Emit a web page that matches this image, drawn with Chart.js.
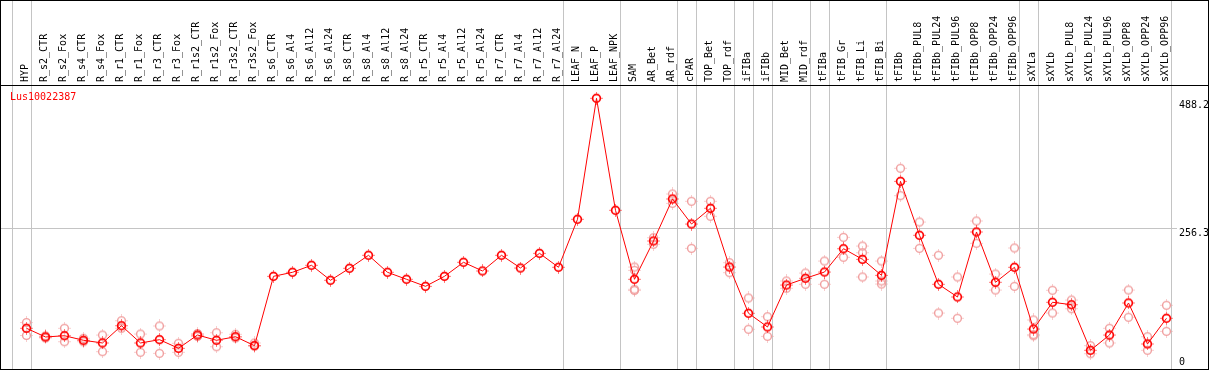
<!DOCTYPE html>
<html>
<head>
<meta charset="utf-8">
<script src="https://cdn.jsdelivr.net/npm/chart.js@4.4.1/dist/chart.umd.min.js"></script>
<style>
  body { margin: 0; background: #fff; }
  canvas { display: block; }
</style>
</head>
<body>
<canvas id="myChart" width="1209" height="370"></canvas>
<script>
// gene shown in the panel
const geneName = 'Lus10022387';

const categories = ['HYP', 'R_s2_CTR', 'R_s2_Fox', 'R_s4_CTR', 'R_s4_Fox', 'R_r1_CTR', 'R_r1_Fox', 'R_r3_CTR', 'R_r3_Fox',
    'R_r1s2_CTR', 'R_r1s2_Fox', 'R_r3s2_CTR', 'R_r3s2_Fox', 'R_s6_CTR', 'R_s6_Al4', 'R_s6_Al12', 'R_s6_Al24',
    'R_s8_CTR', 'R_s8_Al4', 'R_s8_Al12', 'R_s8_Al24', 'R_r5_CTR', 'R_r5_Al4', 'R_r5_Al12', 'R_r5_Al24',
    'R_r7_CTR', 'R_r7_Al4', 'R_r7_Al12', 'R_r7_Al24', 'LEAF_N', 'LEAF_P', 'LEAF_NPK', 'SAM', 'AR_Bet', 'AR_rdf',
    'cPAR', 'TOP_Bet', 'TOP_rdf', 'iFIBa', 'iFIBb', 'MID_Bet', 'MID_rdf', 'tFIBa', 'tFIB_Gr', 'tFIB_Li', 'tFIB_Bi',
    'tFIBb', 'tFIBb_PUL8', 'tFIBb_PUL24', 'tFIBb_PUL96', 'tFIBb_OPP8', 'tFIBb_OPP24', 'tFIBb_OPP96',
    'sXYLa', 'sXYLb', 'sXYLb_PUL8', 'sXYLb_PUL24', 'sXYLb_PUL96', 'sXYLb_OPP8', 'sXYLb_OPP24', 'sXYLb_OPP96'];

// mean expression per sample
const means = [74.0, 58.2, 60.5, 52.2, 47.3, 78.7, 47.3, 53.3, 37.6, 61.8, 52.2, 58.7, 42.4,
    168.5, 175.8, 188.5, 161.3, 183.1, 206.7, 175.8, 163.1, 150.3, 168.5, 194.0, 178.2, 206.7, 183.6, 210.3, 184.9,
    272.2, 492.1, 288.5,
    163.1, 232.7, 309.1, 263.6, 292.2, 185.4, 101.3, 76.4, 152.7, 164.9, 176.3, 218.7, 199.4, 170.3,
    341.2, 243.1, 154.0, 130.9, 249.1, 157.6, 184.9, 72.7, 121.3, 116.9, 34.0, 61.8, 120.0, 45.5, 92.2];

// single replicates per sample (empty where none are shown)
const replicates = [
    [84.5, 60.9], [60.0, 56.4], [74.0, 49.6], [55.8, 49.6], [61.8, 31.5], [87.8, 74.0], [63.6, 30.4],
    [78.2, 28.5], [46.7, 30.4], [64.5, 59.1], [66.0, 40.5], [63.1, 56.4], [47.3, 41.8],
    [], [], [], [], [], [], [], [], [], [], [], [], [], [], [], [],
    [], [], [],
    [185.4, 179.4, 144.9, 142.7], [238.7, 226.7], [318.2, 301.2], [304.9, 219.4], [304.9, 277.6],
    [193.3, 175.1], [129.1, 72.2], [95.1, 59.4], [160.0, 146.7], [174.5, 154.0], [196.3, 154.0],
    [239.4, 203.1], [223.6, 211.4, 167.3], [196.3, 160.0, 154.5],
    [364.9, 315.1], [267.2, 219.4], [206.7, 101.8], [167.3, 92.2], [269.1, 228.5], [172.7, 143.6],
    [220.0, 150.3], [89.1, 62.4, 60.5], [143.1, 101.8], [125.4, 109.6], [42.4, 27.8], [74.0, 47.3],
    [143.6, 94.0], [58.7, 34.0], [115.8, 68.5]];

// last sample index of each group (-1 = line before the first one)
const groupEnds = [-1, 0, 28, 31, 34, 35, 37, 38, 39, 41, 42, 45, 52, 53, 60];

const yTickValues = [0, 256.3, 488.2];

const sepOffset = 0.24;
const gridGrey = '#c4c4c4';
const font = { family: 'DejaVu Sans Mono', size: 10 };

// small ring with four short spikes, used as point marker
function makeMark(color, lw) {
    let c = document.createElement('canvas');
    c.width = 13;
    c.height = 13;
    let g = c.getContext('2d');
    g.strokeStyle = color;
    g.fillStyle = color;
    g.lineWidth = lw;
    g.beginPath();
    g.arc(6.5, 6.5, 3.9, 0, Math.PI * 2);
    g.stroke();
    g.fillRect(6, 0.5, 1, 1);
    g.fillRect(6, 11.5, 1, 1);
    g.fillRect(0.5, 6, 1, 1);
    g.fillRect(11.5, 6, 1, 1);
    return c;
}

let meanPoints = means.map((v, i) => ({ x: i, y: v }));
let repPoints = [];
replicates.forEach((list, i) => {
    list.forEach(v => repPoints.push({ x: i, y: v }));
});

const framePlugin = {
    id: 'frame',
    afterDraw(chart) {
        let ctx = chart.ctx;
        let area = chart.chartArea;
        ctx.save();
        ctx.strokeStyle = '#000';
        ctx.lineWidth = 1;
        ctx.strokeRect(0.5, 0.5, chart.width - 1, chart.height - 1);
        ctx.beginPath();
        ctx.moveTo(0, area.top + 0.5);
        ctx.lineTo(chart.width, area.top + 0.5);
        ctx.stroke();
        ctx.fillStyle = '#ff0000';
        ctx.font = '10px "DejaVu Sans Mono"';
        ctx.textBaseline = 'middle';
        ctx.fillText(geneName, area.left + 9, area.top + 12);
        ctx.restore();
    }
};

var ctx = document.getElementById('myChart').getContext('2d');
var myChart = new Chart(ctx, {
    type: 'line',
    data: {
        datasets: [{
            label: 'mean',
            data: meanPoints,
            borderColor: '#ff0000',
            borderWidth: 1,
            pointStyle: makeMark('#ff0000', 1.7),
            pointRadius: 5,
            tension: 0
        },
        {
            label: 'replicates',
            data: repPoints,
            showLine: false,
            borderColor: '#f09c9c',
            pointStyle: makeMark('#f09c9c', 1.4),
            pointRadius: 5
        }]
    },
    options: {
        responsive: false,
        animation: false,
        layout: { autoPadding: false, padding: { left: 1, right: 0, top: 0, bottom: 1 } },
        plugins: {
            legend: { display: false },
            tooltip: { enabled: false }
        },
        scales: {
            x: {
                type: 'linear',
                position: 'top',
                min: -25.5 / 19,
                max: 60 + 10.5 / 19,
                afterBuildTicks: function(scale) {
                    let t = categories.map((c, i) => ({ value: i }));
                    groupEnds.forEach(g => t.push({ value: g + sepOffset }));
                    t.sort((a, b) => a.value - b.value);
                    scale.ticks = t;
                },
                afterFit: function(scale) {
                    scale.height = 85;
                    scale.paddingLeft = 0;
                    scale.paddingRight = 0;
                },
                grid: {
                    color: c => (c.tick && !Number.isInteger(c.tick.value)) ? gridGrey : 'rgba(0,0,0,0)',
                    tickLength: 85,
                    lineWidth: 1
                },
                border: { display: true, color: '#000' },
                ticks: {
                    autoSkip: false,
                    minRotation: 90,
                    maxRotation: 90,
                    padding: -82,
                    labelOffset: 11,
                    color: '#000',
                    font: font,
                    callback: function(value) {
                        return Number.isInteger(value) ? categories[value] : '';
                    }
                }
            },
            y: {
                type: 'linear',
                position: 'right',
                min: 0,
                max: 516.3,
                afterBuildTicks: function(scale) {
                    scale.ticks = yTickValues.map(v => ({ value: v }));
                },
                afterFit: function(scale) {
                    scale.width = 32;
                    scale.paddingTop = 0;
                    scale.paddingBottom = 0;
                },
                grid: {
                    color: c => (c.tick && c.tick.value === 256.3) ? gridGrey : 'rgba(0,0,0,0)',
                    drawTicks: false
                },
                border: { display: false },
                ticks: {
                    padding: 2,
                    crossAlign: 'near',
                    labelOffset: 5,
                    color: '#000',
                    font: font,
                    callback: function(value) {
                        return value === 0 ? ['0', '', ''] : String(value);
                    }
                }
            }
        }
    },
    plugins: [framePlugin]
});
</script>
</body>
</html>
